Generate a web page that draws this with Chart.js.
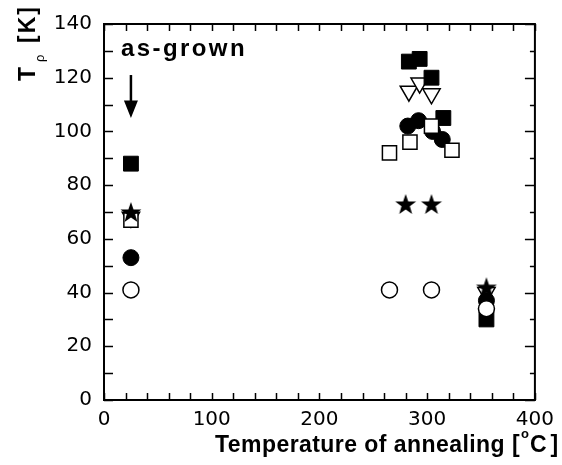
<!DOCTYPE html>
<html>
<head>
<meta charset="utf-8">
<script src="https://cdn.jsdelivr.net/npm/chart.js@4"></script>
<style>
  html, body { margin: 0; padding: 0; background: #fff; }
  #wrap { width: 562px; height: 465px; }
</style>
</head>
<body>
<div id="wrap"><canvas id="data-chart"></canvas></div>
<script>
// values
var xTicks = [0, 100, 200, 300, 400];
var yTicks = [0, 20, 40, 60, 80, 100, 120, 140];

var filledSqX = [25, 283, 293, 304, 315, 355];
var filledSqY = [88, 126, 127, 120, 105, 30];

var openTriX = [25, 283, 293, 304, 355];
var openTriY = [68, 115, 118, 114, 40];

var filledCircX = [25, 282, 292, 305, 314, 355];
var filledCircY = [53, 102, 104, 100, 97, 37];

var openSqX = [25, 265, 284, 304, 323];
var openSqY = [67, 92, 96, 102, 93];

var starX = [25, 280, 304, 355];
var starY = [70, 73, 73, 42];

var openCircX = [25, 265, 304, 355];
var openCircY = [41, 41, 41, 34];

var asGrownX = 25;

function pts(xs, ys) {
    return xs.map(function (x, i) { return {x: x, y: ys[i]}; });
}

// filled five-point star used as a point style
var starImg = document.createElement('canvas');
starImg.width = 24;
starImg.height = 24;
(function () {
    var c = starImg.getContext('2d');
    c.beginPath();
    for (var i = 0; i < 10; i++) {
        var r = i % 2 === 0 ? 11 : 4.4;
        var a = -Math.PI / 2 + i * Math.PI / 5;
        var px = 12 + r * Math.cos(a), py = 13 + r * Math.sin(a);
        if (i === 0) c.moveTo(px, py); else c.lineTo(px, py);
    }
    c.closePath();
    c.fillStyle = '#000';
    c.fill();
})();

var FONT = "'Liberation Sans', Arial, sans-serif";
var TICKFONT = "'DejaVu Sans', sans-serif";

// writes text spread to a given width
function spread(ctx, text, x, y, width) {
    ctx.letterSpacing = '0px';
    var natural = ctx.measureText(text).width;
    ctx.letterSpacing = ((width - natural) / text.length) + 'px';
    ctx.fillText(text, x, y);
    var w = ctx.measureText(text).width;
    ctx.letterSpacing = '0px';
    return w;
}

// frame, inward ticks, titles and the as-grown arrow
var decorations = {
    id: 'decorations',
    afterDatasetsDraw: function (chart) {
        var ctx = chart.ctx, a = chart.chartArea;
        var xs = chart.scales.x, ys = chart.scales.y;
        ctx.save();
        ctx.strokeStyle = '#000';
        ctx.lineWidth = 2;
        ctx.strokeRect(a.left, a.top, a.right - a.left, a.bottom - a.top);

        ctx.lineWidth = 1.5;
        ctx.beginPath();
        for (var v = 0; v <= 400; v += 20) {
            var px = Math.round(xs.getPixelForValue(v)) + 0.5;
            ctx.moveTo(px, a.bottom); ctx.lineTo(px, a.bottom - 7);
            ctx.moveTo(px, a.top); ctx.lineTo(px, a.top + 7);
        }
        for (var w = 0; w <= 140; w += 10) {
            var py = Math.round(ys.getPixelForValue(w)) + 0.5;
            var major = w % 20 === 0;
            ctx.moveTo(a.left, py); ctx.lineTo(a.left + 9, py);
            ctx.moveTo(a.right, py); ctx.lineTo(a.right - (major ? 10 : 5), py);
        }
        ctx.stroke();

        // as-grown label and arrow
        var ax = xs.getPixelForValue(asGrownX);
        ctx.fillStyle = '#000';
        ctx.textBaseline = 'alphabetic';
        ctx.textAlign = 'left';
        ctx.font = 'bold 24px ' + FONT;
        spread(ctx, 'as-grown', a.left + 17, 56, 126);
        ctx.lineWidth = 2.5;
        ctx.beginPath();
        ctx.moveTo(ax, ys.getPixelForValue(121));
        ctx.lineTo(ax, ys.getPixelForValue(110));
        ctx.stroke();
        ctx.beginPath();
        ctx.moveTo(ax - 7, ys.getPixelForValue(111.5));
        ctx.lineTo(ax + 7, ys.getPixelForValue(111.5));
        ctx.lineTo(ax, ys.getPixelForValue(105));
        ctx.closePath();
        ctx.fill();

        // x title with superscript
        ctx.font = 'bold 23px ' + FONT;
        var w1 = spread(ctx, 'Temperature of annealing [', 215, 452, 305);
        ctx.font = 'bold 13px ' + FONT;
        ctx.fillText('o', 215 + w1 + 1, 438);
        ctx.font = 'bold 23px ' + FONT;
        spread(ctx, 'C]', 215 + w1 + 10, 452, 32);

        // y title with subscript, rotated
        ctx.translate(35, 81);
        ctx.rotate(-Math.PI / 2);
        ctx.font = 'bold 23px ' + FONT;
        ctx.fillText('T', 0, 0);
        ctx.font = '13px ' + FONT;
        ctx.fillText('\u03c1', 19, 9);
        ctx.font = 'bold 23px ' + FONT;
        spread(ctx, '[K]', 38, 0, 38);
        ctx.restore();
    }
};

var ctx = document.getElementById('data-chart').getContext('2d');
var chart = new Chart(ctx, {
    type: 'scatter',
    data: {
        datasets: [
            {label: 'open circles', data: pts(openCircX, openCircY), pointStyle: 'circle',
             pointRadius: 8, backgroundColor: '#fff', borderColor: '#000', borderWidth: 1.5},
            {label: 'stars', data: pts(starX, starY), pointStyle: starImg},
            {label: 'open squares', data: pts(openSqX, openSqY), pointStyle: 'rect',
             pointRadius: 10, backgroundColor: '#fff', borderColor: '#000', borderWidth: 1.5},
            {label: 'filled circles', data: pts(filledCircX, filledCircY), pointStyle: 'circle',
             pointRadius: 8, backgroundColor: '#000', borderColor: '#000', borderWidth: 1},
            {label: 'filled squares', data: pts(filledSqX, filledSqY), pointStyle: 'rect',
             pointRadius: 10.5, backgroundColor: '#000', borderColor: '#000', borderWidth: 1},
            {label: 'open triangles', data: pts(openTriX, openTriY), pointStyle: 'triangle',
             rotation: 180, pointRadius: 10, backgroundColor: '#fff', borderColor: '#000', borderWidth: 1.5}
        ]
    },
    options: {
        responsive: true,
        maintainAspectRatio: false,
        animation: false,
        events: [],
        layout: {
            padding: {left: 0, right: 27, top: 14, bottom: 0}
        },
        plugins: {
            legend: {display: false},
            tooltip: {enabled: false}
        },
        scales: {
            x: {
                type: 'linear',
                min: 0,
                max: 400,
                afterBuildTicks: function (s) { s.ticks = xTicks.map(function (v) { return {value: v}; }); },
                afterFit: function (s) { s.height = 65; },
                grid: {display: false, drawTicks: false},
                border: {display: false},
                ticks: {color: '#000', padding: 8, maxRotation: 0, font: {family: TICKFONT, size: 20}}
            },
            y: {
                type: 'linear',
                min: 0,
                max: 140,
                afterBuildTicks: function (s) { s.ticks = yTicks.map(function (v) { return {value: v}; }); },
                afterFit: function (s) { s.width = 104; },
                grid: {display: false, drawTicks: false},
                border: {display: false},
                ticks: {color: '#000', padding: 12, font: {family: TICKFONT, size: 20}}
            }
        }
    },
    plugins: [decorations]
});
</script>
</body>
</html>
